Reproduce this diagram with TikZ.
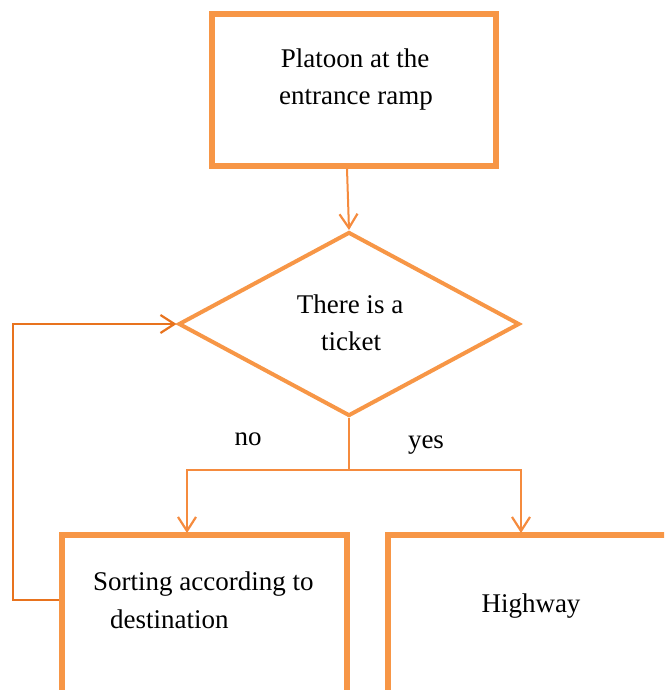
\documentclass[tikz,border=0pt]{standalone}
\usepackage{fontspec}
\setmainfont{Liberation Serif}
\usetikzlibrary{arrows.meta,shapes.geometric}
\definecolor{boxor}{HTML}{F79646}
\definecolor{lineor}{HTML}{F58B3E}
\definecolor{loopor}{HTML}{E8731E}
\tikzset{
  boxst/.style={draw=boxor,line width=5.5pt,inner sep=0pt},
  conn/.style={draw=lineor,line width=2pt},
  tipst/.style={-{Straight Barb[length=14pt,width=18pt,line width=2.2pt]}},
  arr/.style={conn,tipst},
  txt/.style={inner sep=0pt,anchor=base,font=\fontsize{27}{37}\selectfont,text=black},
}
\begin{document}
\begin{tikzpicture}[x=1pt,y=-1pt]
\useasboundingbox (0,0) rectangle (664,690);
\clip (0,0) rectangle (664,690);
% boxes
\node[boxst,minimum width=284pt,minimum height=152pt] (top) at (354,90) {};
\node[boxst,diamond,minimum width=341pt,minimum height=184pt,aspect=1.85,line width=4pt] (dia) at (349,324) {};
\node[boxst,minimum width=285pt,minimum height=250pt] (left) at (204.5,660) {};
\node[boxst,minimum width=320pt,minimum height=250pt] (right) at (548,660) {};
% texts
\node[txt] (t1) at (355,68) {Platoon at the};
\node[txt] (t2) at (356,105) {entrance ramp};
\node[txt] (d1) at (350,313) {There is a};
\node[txt] (d2) at (351,350) {ticket};
\node[txt,anchor=base west] (s1) at (93,590) {Sorting according to};
\node[txt,anchor=base west] (s2) at (110,628) {destination};
\node[txt] (h) at (531,612) {Highway};
\node[txt] (no) at (248,445) {no};
\node[txt] (yes) at (426,448) {yes};
% connectors
\coordinate (split) at (349,470);
\coordinate (lt) at (187,533);
\coordinate (rt) at (521,533);
\coordinate (l1) at (13,600);
\coordinate (l2) at (13,324);
\draw[arr] (top.south -| 347,0) -- (dia.north);
\draw[conn] (dia.south) -- (split);
\draw[arr] (split) -| (lt);
\draw[arr] (split) -| (rt);
\draw[conn,draw=loopor,tipst] (left.west |- l1) -- (l1) -- (l2) -- (dia.west);
\end{tikzpicture}
\end{document}
